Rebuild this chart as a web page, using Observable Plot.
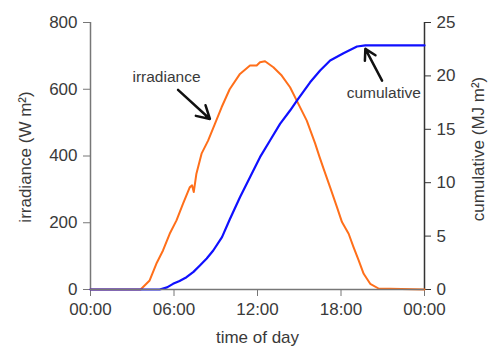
<!DOCTYPE html>
<html>
<head>
<meta charset="utf-8">
<script src="https://cdn.jsdelivr.net/npm/d3@7"></script>
<script src="https://cdn.jsdelivr.net/npm/@observablehq/plot@0.6"></script>
<style>
  html, body { margin: 0; padding: 0; background: #fff; }
</style>
</head>
<body>
<div id="chart"></div>
<script>
// time of day (hours) and irradiance (W m-2)
const irrTime = [0, 3.6, 4.25, 4.73, 5.21, 5.69, 6.18, 6.65, 7.13, 7.3, 7.42, 7.61, 7.98, 8.45, 8.94, 9.42, 10.0, 10.74, 11.46, 11.94, 12.18, 12.54, 13.14, 13.74, 14.34, 14.82, 15.54, 16.14, 16.45, 16.74, 17.22, 17.71, 18.07, 18.55, 18.9, 19.27, 19.63, 20.1, 20.7, 24];
const irrValue = [0, 0, 27, 77, 117, 167, 207, 257, 306, 312, 292, 347, 407, 446, 496, 546, 600, 646, 671, 671, 681, 684, 666, 641, 606, 566, 506, 438, 398, 363, 306, 247, 202, 167, 127, 87, 47, 17, 3, 0];

// time of day (hours) and cumulative (MJ m-2)
const cumTime = [0, 4.97, 5.5, 5.93, 6.4, 6.9, 7.4, 7.86, 8.35, 8.82, 9.45, 10.02, 10.74, 11.46, 12.18, 12.9, 13.62, 14.34, 14.87, 15.78, 16.5, 17.22, 18.18, 19.15, 19.75, 24];
const cumValue = [0, 0, 0.2, 0.53, 0.8, 1.15, 1.65, 2.25, 2.9, 3.65, 4.9, 6.6, 8.64, 10.51, 12.39, 13.95, 15.51, 16.76, 17.76, 19.4, 20.5, 21.44, 22.12, 22.75, 22.85, 22.85];

// axes
const xTicks = [0, 6, 12, 18, 24];
const xTickLabels = ["00:00", "06:00", "12:00", "18:00", "00:00"];
const yTicks = [0, 200, 400, 600, 800];
const y2Ticks = [0, 5, 10, 15, 20, 25];
const yMax = 800, y2Max = 25;
const k = yMax / y2Max;
const xTitle = "time of day";
const yTitle = "irradiance (W m²)";
const y2Title = "cumulative (MJ m²)";

// annotations (data units: hours, W m-2)
const annLabels = ["irradiance", "cumulative"];
const annTextT = [5.46, 21.07];
const annTextV = [638, 588];
const arrowT1 = [6.29, 20.95];
const arrowV1 = [598, 626];
const arrowT2 = [8.58, 19.75];
const arrowV2 = [511, 721];

const irr = irrTime.map((t, i) => ({t, v: irrValue[i]}));
const cum = cumTime.map((t, i) => ({t, v: cumValue[i] * k}));
const ann = annLabels.map((s, i) => ({s, t: annTextT[i], v: annTextV[i], t1: arrowT1[i], v1: arrowV1[i], t2: arrowT2[i], v2: arrowV2[i]}));

const txt = "#3a3a3a";
const chart = Plot.plot({
  width: 492,
  height: 351,
  marginLeft: 90,
  marginRight: 68,
  marginTop: 22,
  marginBottom: 62,
  style: {fontFamily: "Arial, 'Liberation Sans', sans-serif", fontSize: "17px", color: txt, background: "#fff"},
  x: {domain: [0, 24]},
  y: {domain: [0, yMax]},
  marks: [
    Plot.axisX(xTicks, {tickFormat: (d, i) => xTickLabels[i], tickSize: 7, tickPadding: 6, stroke: "#777", fontSize: 17, label: null}),
    Plot.axisY(yTicks, {anchor: "left", tickSize: 7, tickPadding: 6, stroke: "#777", fontSize: 17, label: null}),
    Plot.axisY(y2Ticks.map(d => d * k), {anchor: "right", tickFormat: d => d / k, tickSize: 6, tickPadding: 6, stroke: "#333", fontSize: 17, label: null}),
    Plot.text([xTitle], {frameAnchor: "bottom", dy: 53, text: d => d, fontSize: 17, fill: txt}),
    Plot.text([yTitle], {frameAnchor: "left", textAnchor: "middle", dx: -65, dy: 1, rotate: -90, text: d => d, fontSize: 17, fill: txt}),
    Plot.text([y2Title], {frameAnchor: "right", textAnchor: "middle", dx: 54, dy: -7, rotate: -90, text: d => d, fontSize: 17, fill: txt}),
    Plot.ruleX([0], {stroke: "#777", strokeWidth: 1.5}),
    Plot.ruleX([24], {stroke: "#333", strokeWidth: 1.5}),
    Plot.line(irr, {x: "t", y: "v", stroke: "#ff6f1a", strokeWidth: 2}),
    Plot.line(cum, {x: "t", y: "v", stroke: "#1010ff", strokeWidth: 2.2}),
    Plot.ruleY([0], {stroke: "#777", strokeWidth: 1.5}),
    Plot.arrow(ann, {x1: "t1", y1: "v1", x2: "t2", y2: "v2", stroke: "#111", strokeWidth: 2.5, headLength: 9}),
    Plot.text(ann, {x: "t", y: "v", text: "s", fontSize: 15.5, fill: txt})
  ]
});
document.getElementById("chart").appendChild(chart);
</script>
</body>
</html>
